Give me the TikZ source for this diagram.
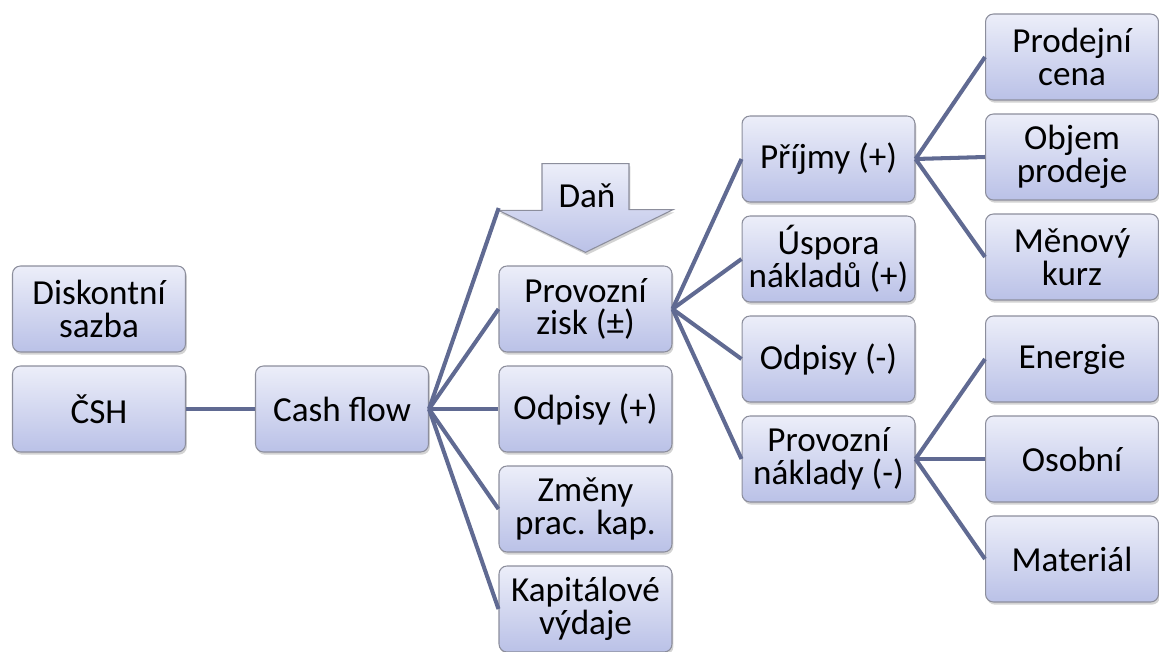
\documentclass[tikz,border=0pt]{standalone}
\usepackage{fontspec}
\setmainfont{Carlito}
\usetikzlibrary{shadows}
\definecolor{linka}{RGB}{96,106,146}
\definecolor{okraj}{RGB}{140,142,156}
\definecolor{svetla}{RGB}{236,238,249}
\definecolor{tmava}{RGB}{186,193,231}
\begin{document}
\begin{tikzpicture}[x=0.02cm, y=-0.02cm,
  box/.style={draw=okraj, line width=0.6pt, rounded corners=4.5pt, top color=svetla, bottom color=tmava,
    minimum width=3.46cm, minimum height=1.72cm, align=center, font=\fontsize{20}{18.5}\selectfont,
    drop shadow={shadow xshift=0.8pt, shadow yshift=-1.5pt, opacity=0.35}},
  spoj/.style={draw=linka, line width=2.3pt}]
\useasboundingbox (0,0) rectangle (1159,652);
% prvni sloupec
\node[box] (sazba) at (99,309) {Diskontní\\sazba};
\node[box] (csh) at (99,409) {ČSH};
\node[box] (cf) at (342,409) {Cash flow};
% druhy sloupec
\node[minimum width=3.46cm, minimum height=1.76cm] (dan) at (585.5,208) {};
\draw[draw=okraj, line width=0.6pt, top color=svetla, bottom color=tmava,
  drop shadow={shadow xshift=0.8pt, shadow yshift=-1.5pt, opacity=0.35}]
  (dan.north) ++(-43.5,0) -- ++(87,0) -- ++(0,46) -- ++(44,0) -- (dan.south)
  -- ++(-87,-42) -- ++(43.5,0) -- cycle;
\node[anchor=base, font=\fontsize{20}{18.5}\selectfont] (dantxt) at (587,207) {Daň};
\node[box] (zisk) at (585.5,309) {Provozní\\zisk (±)};
\node[box] (odpisy) at (585.5,409) {Odpisy (+)};
\node[box] (zmeny) at (585.5,509) {Změny\\prac. kap.};
\node[box] (kapvyd) at (585.5,609) {Kapitálové\\výdaje};
% treti sloupec
\node[box] (prijmy) at (828.5,159) {Příjmy (+)};
\node[box] (uspora) at (828.5,259) {Úspora\\nákladů (+)};
\node[box] (odpisym) at (828.5,359) {Odpisy (-)};
\node[box] (naklady) at (828.5,459) {Provozní\\náklady (-)};
% ctvrty sloupec
\node[box] (cena) at (1072,57) {Prodejní\\cena};
\node[box] (objem) at (1072,157) {Objem\\prodeje};
\node[box] (kurz) at (1072,257) {Měnový\\kurz};
\node[box] (energie) at (1072,359) {Energie};
\node[box] (osobni) at (1072,459) {Osobní};
\node[box] (material) at (1072,559) {Materiál};
% spoje
\draw[spoj] (csh) -- (cf);
\foreach \n in {dan,zisk,odpisy,zmeny,kapvyd}
  \draw[spoj] (cf.east) -- (\n.west);
\foreach \n in {prijmy,uspora,odpisym,naklady}
  \draw[spoj] (zisk.east) -- (\n.west);
\foreach \n in {cena,objem,kurz}
  \draw[spoj] (prijmy.east) -- (\n.west);
\foreach \n in {energie,osobni,material}
  \draw[spoj] (naklady.east) -- (\n.west);
\end{tikzpicture}
\end{document}
